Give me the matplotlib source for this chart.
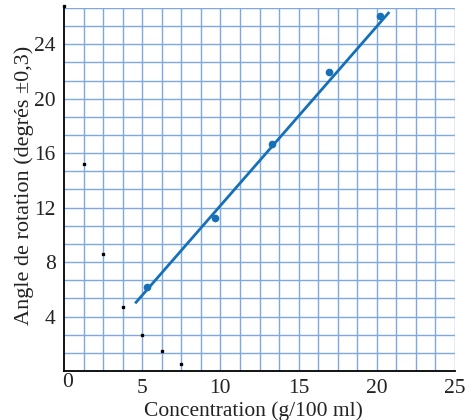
import numpy as np
import matplotlib
matplotlib.use("Agg")
import matplotlib.pyplot as plt

# Measured polarimetry data
conc = [5.3, 9.65, 13.27, 16.93, 20.19]
angle = [6.15, 11.27, 16.69, 21.96, 26.05]

# Fitted calibration line (end points)
fit_x = [4.55, 20.8]
fit_y = [4.97, 26.37]

# Small black marks on the sheet
mark_x = [0.0, 1.25, 2.5, 3.75, 5.0, 6.25, 7.5]
mark_y = [26.8, 15.2, 8.6, 4.7, 2.67, 1.5, 0.5]

xticks = [5, 10, 15, 20, 25]
yticks = [4, 8, 12, 16, 20, 24]

plt.rcParams['font.family'] = ['Liberation Serif', 'DejaVu Serif']

fig = plt.figure(figsize=(4.73, 4.20), dpi=100)
ax = fig.add_axes([64 / 473, 49 / 420, (455 - 64) / 473, (371 - 8) / 420])

xmax, ymax = 25.0, 80 / 3
ax.set_xlim(0, xmax)
ax.set_ylim(0, ymax)

# Graph-paper grid: 20 x 20 cells
grid_col = '#7ea8e0'
for gx in np.linspace(0, xmax, 21)[1:]:
    ax.axvline(gx, color=grid_col, lw=1.0, zorder=1)
for gy in np.linspace(0, ymax, 21)[1:]:
    ax.axhline(gy, color=grid_col, lw=1.0, zorder=1)

ax.plot(fit_x, fit_y, color='#1670b8', lw=2.0, zorder=3, solid_capstyle='butt')
ax.plot(conc, angle, 'o', color='#1670b8', ms=4.5, zorder=4)
ax.plot(mark_x, mark_y, 's', color='black', ms=2.0, zorder=4, clip_on=False)

for s in ['top', 'right']:
    ax.spines[s].set_visible(False)
for s in ['left', 'bottom']:
    ax.spines[s].set_color('black')
    ax.spines[s].set_linewidth(1.3)
    ax.spines[s].set_zorder(5)

fs = 15.5
ax.set_xticks(xticks)
ax.set_yticks(yticks)
ax.tick_params(axis='both', length=0, labelsize=fs, colors='#222222')
ax.tick_params(axis='x', pad=6)
ax.tick_params(axis='y', pad=6)
ax.text(0.2, -0.15, '0', transform=ax.transData, ha='center', va='top',
        fontsize=fs, color='#222222')

ax.set_xlabel('Concentration (g/100 ml)', fontsize=fs, color='#222222')
ax.xaxis.set_label_coords(0.485, -0.082)
ax.set_ylabel('Angle de rotation (degrés ±0,3)', fontsize=16, color='#222222')
ax.yaxis.set_label_coords(-0.078, 0.51)

fig.savefig('out.png', dpi=100)
